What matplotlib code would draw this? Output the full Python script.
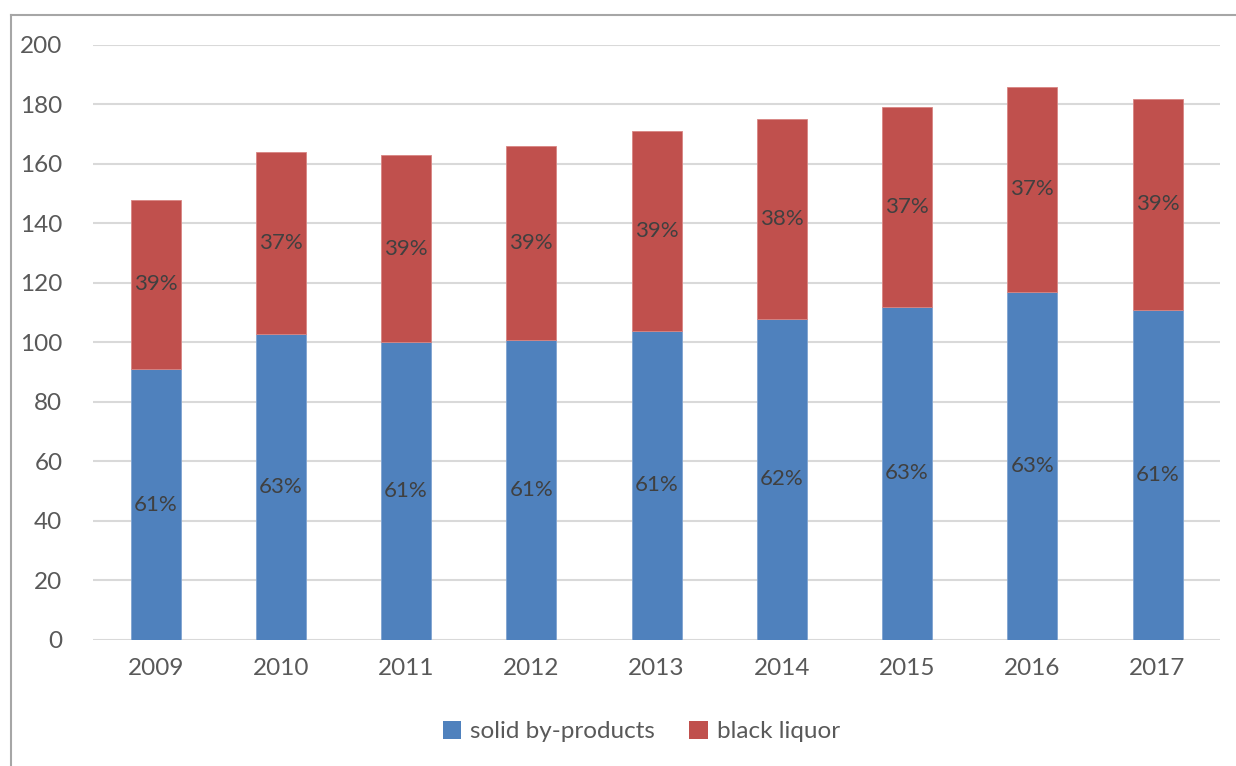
import matplotlib.pyplot as plt
from matplotlib.lines import Line2D
from matplotlib.patches import Patch

plt.rcParams['font.family'] = ['Lato', 'DejaVu Sans']

years = ["2009", "2010", "2011", "2012", "2013", "2014", "2015", "2016", "2017"]
solid = [91, 103, 100, 101, 104, 108, 112, 117, 111]
black = [57, 61, 63, 65, 67, 67, 67, 69, 71]
solid_pct = ["61%", "63%", "61%", "61%", "61%", "62%", "63%", "63%", "61%"]
black_pct = ["39%", "37%", "39%", "39%", "39%", "38%", "37%", "37%", "39%"]

BLUE = "#4F81BD"
RED = "#C0504D"
TXT = "#595959"

fig = plt.figure(figsize=(12.36, 7.66), dpi=100)
ax = fig.add_axes([0.0752, 0.1645, 0.912, 0.7768])

x = range(len(years))
ax.bar(x, solid, width=0.4, color=BLUE, edgecolor="#7FA3D0", linewidth=0.6, zorder=3)
ax.bar(x, black, width=0.4, bottom=solid, color=RED, edgecolor="#D88583", linewidth=0.6, zorder=3)

for i in x:
    ax.text(i, solid[i] / 2, solid_pct[i], ha="center", va="center",
            fontsize=16, color="#404040", zorder=4)
    ax.text(i, solid[i] + black[i] / 2, black_pct[i], ha="center", va="center",
            fontsize=16, color="#404040", zorder=4)

ax.set_ylim(0, 200)
ax.set_yticks(range(0, 201, 20))
ax.set_xlim(-0.5, len(years) - 0.5)
ax.set_xticks(list(x))
ax.set_xticklabels(years)
ax.grid(axis="y", color="#D9D9D9", linewidth=1.5, zorder=0)
ax.set_axisbelow(True)
for s in ax.spines.values():
    s.set_visible(False)
ax.tick_params(axis="both", length=0, labelsize=17.5, labelcolor=TXT)
ax.tick_params(axis="y", pad=22)
ax.tick_params(axis="x", pad=13)

handles = [Patch(facecolor=BLUE), Patch(facecolor=RED)]
fig.legend(handles, ["solid by-products", "black liquor"], loc="center",
           bbox_to_anchor=(0.519, 0.045), ncol=2, frameon=False,
           fontsize=17.5, labelcolor=TXT, handlelength=0.75, handleheight=0.75,
           handletextpad=0.4, columnspacing=1.4)

# chart frame (cut off at right and bottom)
fig.add_artist(Line2D([0.0085, 0.0085], [0.0, 0.981], color="#A6A6A6", linewidth=1.5))
fig.add_artist(Line2D([0.0085, 1.0], [0.981, 0.981], color="#A6A6A6", linewidth=1.5))

fig.savefig("out.png", dpi=100)
